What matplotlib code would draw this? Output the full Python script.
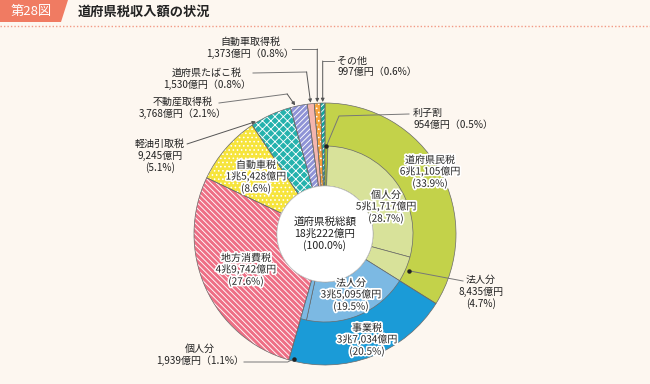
import numpy as np
import matplotlib
matplotlib.use("Agg")
import matplotlib.pyplot as plt
import matplotlib.patheffects as pe
from matplotlib.patches import Polygon, Circle

plt.rcParams["font.family"] = ["Noto Sans CJK JP", "DejaVu Sans"]
plt.rcParams["hatch.linewidth"] = 0.65

# ---------------------------------------------------------------------
# Data (億円)
# ---------------------------------------------------------------------
tax_names = ["道府県民税", "事業税", "地方消費税", "自動車税", "軽油引取税",
             "不動産取得税", "道府県たばこ税", "自動車取得税", "その他"]
tax_values = [61105, 37034, 49742, 15428, 9245, 3768, 1530, 1373, 997]
tax_pct = [33.9, 20.5, 27.6, 8.6, 5.1, 2.1, 0.8, 0.8, 0.6]
tax_amount = ["6兆1,105億円", "3兆7,034億円", "4兆9,742億円", "1兆5,428億円",
              "9,245億円", "3,768億円", "1,530億円", "1,373億円", "997億円"]

# breakdown of 道府県民税 (利子割, 個人分, 法人分) and 事業税 (法人分, 個人分)
sub_names = ["利子割", "個人分", "法人分", "法人分", "個人分"]
sub_values = [954, 51717, 8435, 35095, 1939]
sub_pct = [0.5, 28.7, 4.7, 19.5, 1.1]
sub_amount = ["954億円", "5兆1,717億円", "8,435億円", "3兆5,095億円", "1,939億円"]

total_name = "道府県税総額"
total_amount = "18兆222億円"
total_pct = 100.0

# ---------------------------------------------------------------------
# Style
# ---------------------------------------------------------------------
BG = "#fdf7f0"
TXT = "#222222"
LINE = "#777777"
CX, CY = 325, 234
R_OUT, R_MID, R_IN = 131, 88, 48

tax_colors = ["#c3d24a", "#1b9bd7", "#ee6f85", "#f6e43c", "#25b2ad",
              "#8f93d6", "#f4b5ad", "#f6a23b", "#16a59d"]
tax_hatch = ["", "", "\\" * 6, "....", "xxxx", "/" * 6, "", "....", "/" * 6]
sub_colors = ["#a9bd2e", "#d8e29a", "#d8e29a", "#7cb9e3", "#7cb9e3"]

fig = plt.figure(figsize=(6.5, 3.84), dpi=100, facecolor=BG)
ax = fig.add_axes([0, 0, 1, 1])
ax.set_facecolor(BG)

# outer ring (full depth for the single taxes)
ax.pie(tax_values, radius=R_OUT, center=(CX, CY), startangle=-90,
       counterclock=True, colors=tax_colors, hatch=tax_hatch,
       wedgeprops=dict(width=R_OUT - R_IN, edgecolor="white", linewidth=0))
ax.pie(tax_values, radius=R_OUT, center=(CX, CY), startangle=-90,
       counterclock=True,
       wedgeprops=dict(width=R_OUT - R_IN, facecolor="none",
                       edgecolor="#6a6a6a", linewidth=0.5))

# inner ring for the breakdowns
rest = sum(tax_values[2:])
inner_vals = sub_values + [rest]
w_in, _ = ax.pie(inner_vals, radius=R_MID, center=(CX, CY), startangle=-90,
                 counterclock=True, colors=sub_colors + ["none"],
                 wedgeprops=dict(width=R_MID - R_IN, edgecolor="#6a6a6a",
                                 linewidth=0.5))
w_in[-1].set_visible(False)

ax.add_patch(Circle((CX, CY), R_IN, facecolor="white", edgecolor="#cccccc",
                    linewidth=0.5, zorder=3))

outer_cum = np.concatenate([[0], np.cumsum(tax_values)]) / sum(tax_values)
inner_cum = np.concatenate([[0], np.cumsum(inner_vals)]) / sum(inner_vals)


def ring_point(cum, i, pos, r):
    f = cum[i] + (cum[i + 1] - cum[i]) * pos
    th = np.deg2rad(-90 + 360 * f)
    return CX + r * np.cos(th), CY + r * np.sin(th)


halo = [pe.withStroke(linewidth=2.5, foreground="white")]
fs = 7.2


def label(x, y, s, ha="center", effects=None, size=fs, **kw):
    ax.text(x, y, s, ha=ha, va="center", multialignment=ha, fontsize=size,
            color=TXT, linespacing=1.15, path_effects=effects, zorder=6, **kw)


def three_line(name, amount, pct):
    return f"{name}\n{amount}\n({pct:.1f}%)"


def two_line(name, amount, pct):
    return f"{name}\n{amount}（{pct:.1f}%）"


# labels inside the chart
label(430, 172, three_line(tax_names[0], tax_amount[0], tax_pct[0]), effects=halo)
label(367, 340, three_line(tax_names[1], tax_amount[1], tax_pct[1]), effects=halo)
label(246, 270, three_line(tax_names[2], tax_amount[2], tax_pct[2]), effects=halo)
label(256, 177, three_line(tax_names[3], tax_amount[3], tax_pct[3]), effects=halo)
label(386, 207, three_line(sub_names[1], sub_amount[1], sub_pct[1]), effects=halo)
label(351, 295, three_line(sub_names[3], sub_amount[3], sub_pct[3]), effects=halo)
label(325, 234, three_line(total_name, total_amount, total_pct), size=7.6)

# labels outside with leader lines
def arrow_to(pts, target):
    xs = [p[0] for p in pts]
    ys = [p[1] for p in pts]
    ax.plot(xs, ys, color=LINE, lw=0.7, zorder=5)
    ax.annotate("", xy=target, xytext=pts[-1],
                arrowprops=dict(arrowstyle="-|>", color="#555555", lw=0.7,
                                mutation_scale=5, shrinkA=0, shrinkB=0),
                zorder=5)


def dot_to(pts, target):
    xs = [p[0] for p in pts] + [target[0]]
    ys = [p[1] for p in pts] + [target[1]]
    ax.plot(xs, ys, color=LINE, lw=0.7, zorder=5)
    ax.plot(*target, "o", ms=2.2, color="#222222", zorder=5)


# 自動車取得税
label(250, 48, two_line(tax_names[7], tax_amount[7], tax_pct[7]))
t = ring_point(outer_cum, 7, 0.5, R_OUT + 1)
arrow_to([(292, 49), (t[0], 49)], t)

# 道府県たばこ税
label(207, 79, two_line(tax_names[6], tax_amount[6], tax_pct[6]))
t = ring_point(outer_cum, 6, 0.5, R_OUT + 1)
arrow_to([(253, 73), (t[0] - 4, 72)], t)

# 不動産取得税
label(183, 108, two_line(tax_names[5], tax_amount[5], tax_pct[5]))
t = ring_point(outer_cum, 5, 0.3, R_OUT + 1)
arrow_to([(219, 103), (t[0] - 8, 94)], t)

# 軽油引取税
label(160, 156, three_line(tax_names[4], tax_amount[4], tax_pct[4]))
t = ring_point(outer_cum, 4, 0.12, R_OUT + 1)
arrow_to([(187, 144)], t)

# その他
label(337, 66, two_line(tax_names[8], tax_amount[8], tax_pct[8]), ha="left")
t = ring_point(outer_cum, 8, 0.5, R_OUT + 1)
arrow_to([(334, 61), (t[0], 61)], t)

# 利子割
label(413, 119, two_line(sub_names[0], sub_amount[0], sub_pct[0]), ha="left")
t = ring_point(inner_cum, 0, 0.5, R_MID)
dot_to([(409, 114), (339, 116)], t)

# 法人分 (道府県民税)
label(481, 292, three_line(sub_names[2], sub_amount[2], sub_pct[2]))
t = ring_point(inner_cum, 2, 0.5, R_MID + 4)
dot_to([(463, 281)], t)

# 個人分 (事業税)
label(200, 355, two_line(sub_names[4], sub_amount[4], sub_pct[4]))
t = ring_point(inner_cum, 4, 0.5, R_OUT - 2)
dot_to([(244, 362), (t[0] - 6, 362)], t)

# ---------------------------------------------------------------------
# Title bar
# ---------------------------------------------------------------------
ax.add_patch(Polygon([(0, 0), (68, 0), (61, 22), (0, 22)], closed=True,
                     facecolor="#f07b62", edgecolor="none", zorder=4))
ax.text(31, 11.5, "第28図", ha="center", va="center", fontsize=9.5,
        color="white", zorder=5)
ax.text(78, 11.5, "道府県税収入額の状況", ha="left", va="center", fontsize=9.5,
        color="#222222", fontweight="bold", zorder=5)
ax.plot([0, 650], [26, 26], color="#f29a85", lw=1.0, ls=(0, (1, 1.5)))

ax.set_xlim(0, 650)
ax.set_ylim(384, 0)
ax.set_aspect("equal", adjustable="box")
ax.set_axis_off()

fig.savefig("out.png", dpi=100, facecolor=BG)
